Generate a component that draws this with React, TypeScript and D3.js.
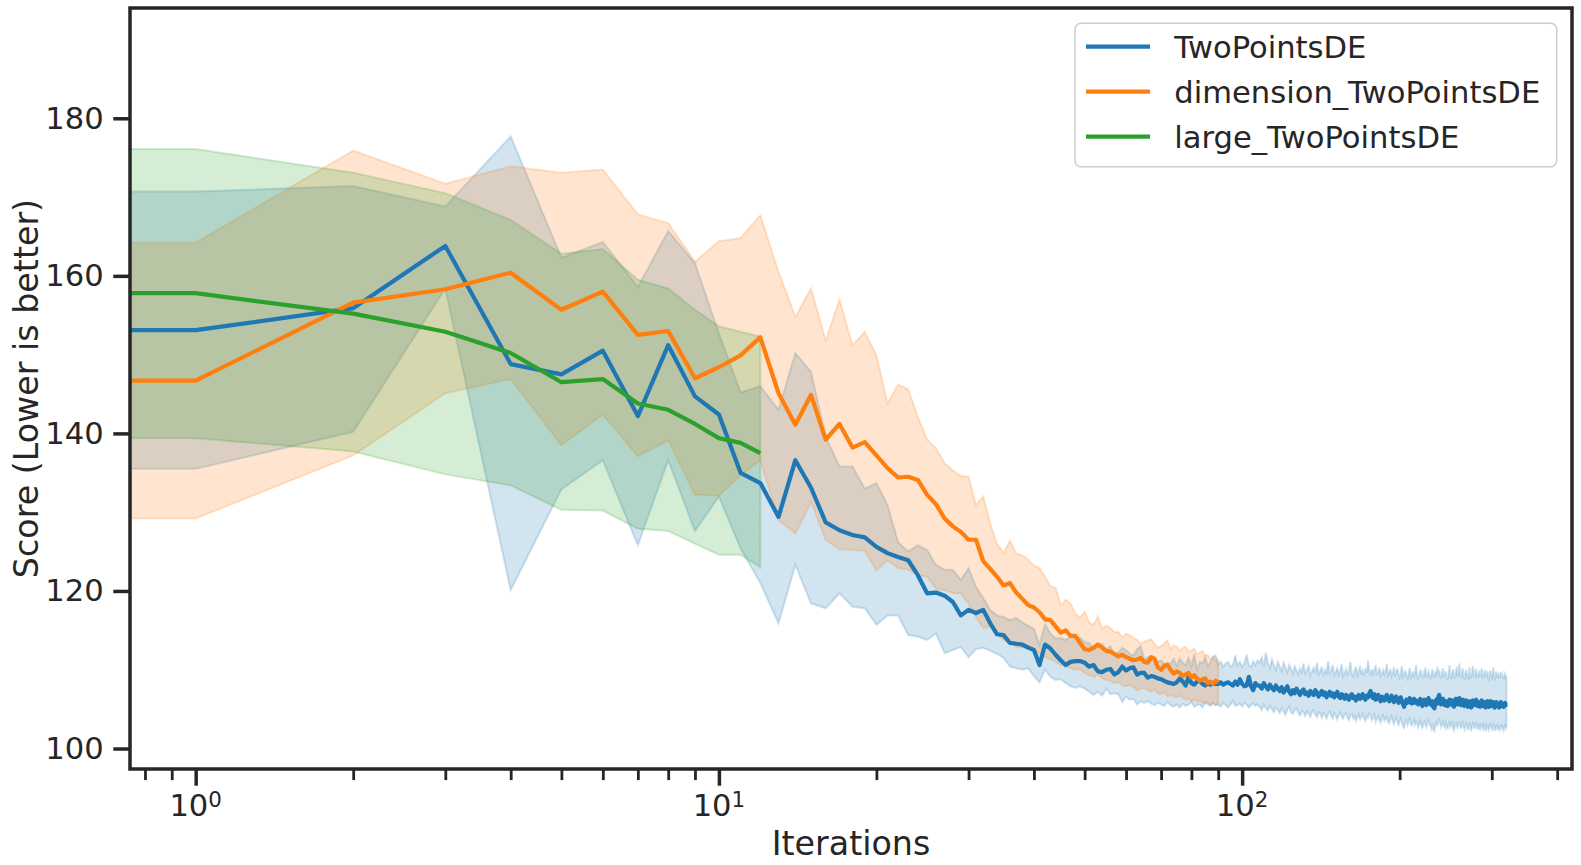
import { useEffect, useRef } from 'react';
import * as d3 from 'd3';

const WIDTH = 1581;
const HEIGHT = 865;
const PLOT = { left: 130, right: 1572, top: 8, bottom: 769 };

const X_DOMAIN: [number, number] = [0.749, 427];
const Y_DOMAIN: [number, number] = [97.4, 194];
const Y_TICKS = [100, 120, 140, 160, 180];
const X_MAJOR = [1, 10, 100];
const X_MINOR = [0.8, 0.9, 2, 3, 4, 5, 6, 7, 8, 9, 20, 30, 40, 50, 60, 70, 80, 90, 200, 300, 400];

const SERIES_NAMES = ['TwoPointsDE', 'dimension_TwoPointsDE', 'large_TwoPointsDE'];
const COLORS = ['#1f77b4', '#ff7f0e', '#2ca02c'];
const TEXT = '#262626';
const FONT = '"DejaVu Sans", sans-serif';

// TwoPointsDE, iterations 1..320
const blueMean = [
  153.1, 155.9, 163.8, 148.8, 147.5, 150.5, 142.2, 151.2, 144.7, 142.4,
  135.0, 133.7, 129.4, 136.6, 133.1, 128.7, 127.7, 127.1, 126.8, 125.6,
  124.8, 124.3, 123.9, 122.0, 119.7, 119.8, 119.4, 118.6, 116.9, 117.6,
  117.2, 117.6, 115.9, 114.5, 114.4, 113.4, 113.3, 113.2, 112.8, 112.5,
  110.6, 113.2, 112.7, 111.9, 111.2, 110.6, 111.0, 111.1, 111.1, 110.9,
  110.4, 110.6, 109.8, 109.7, 110.0, 110.1, 109.4, 109.7, 110.4, 109.9,
  110.2, 110.3, 109.4, 109.6, 109.6, 109.0, 109.2, 109.1, 108.9, 108.8,
  108.6, 108.4, 108.3, 108.2, 108.4, 108.9, 108.5, 108.0, 109.1, 108.3,
  108.1, 108.5, 108.6, 108.2, 108.0, 108.3, 108.1, 108.3, 108.2, 108.2,
  108.4, 108.1, 108.3, 108.4, 108.2, 108.0, 108.5, 108.1, 108.8, 108.2,
  107.9, 108.0, 109.1, 107.9, 107.4, 108.3, 108.0,
  108.0, 107.6, 108.3, 107.9, 107.5, 108.1, 107.7, 107.4, 108.0, 107.6,
  107.3, 107.8, 107.1, 107.5, 107.9, 107.2, 106.9, 107.4, 107.0, 107.6,
  107.2, 106.8, 107.3, 107.5, 106.9, 107.1, 106.7, 107.3, 107.0, 106.8,
  107.4, 107.1, 106.6, 107.0, 107.3, 106.8, 107.1, 106.5, 106.9, 107.2,
  106.7, 107.0, 106.5, 106.9, 107.2, 106.6, 106.4, 106.9, 106.7, 106.3,
  106.8, 106.5, 106.2, 106.7, 106.9, 106.4, 106.6, 106.1, 106.5, 106.8,
  106.3, 106.6, 106.9, 106.4, 106.2, 106.7, 106.5, 107.0, 107.3, 106.6,
  106.4, 106.9, 106.2, 106.5, 106.8, 106.3, 106.0, 106.6, 106.4, 106.1,
  106.5, 106.8, 106.2, 106.0, 106.4, 106.7, 106.1, 105.9, 106.3, 106.6,
  106.2, 105.8, 106.1, 106.5, 106.0, 105.6, 105.3, 105.9, 106.2, 105.8,
  106.1, 106.4, 105.9, 105.7, 106.0, 106.3, 105.8, 106.1, 105.9, 105.6,
  106.0, 106.3, 105.7, 105.4, 105.9, 106.2, 105.8, 105.5, 106.0, 106.4,
  106.1, 105.7, 105.5, 106.0, 105.3, 105.1, 105.8, 106.2, 105.7, 106.5,
  106.8, 106.1, 105.6, 105.9, 106.3, 105.7, 105.5, 106.0, 105.8, 105.4,
  105.9, 106.2, 105.6, 105.8, 106.1, 105.5, 105.3, 105.9, 106.3, 105.7,
  105.6, 106.0, 106.4, 105.8, 105.5, 105.9, 106.2, 105.6, 105.4, 105.8,
  106.1, 105.7, 105.3, 105.8, 106.0, 105.6, 105.2, 105.7, 106.1, 105.9,
  105.5, 105.8, 106.2, 105.6, 105.4, 105.9, 105.7, 105.3, 105.8, 106.1,
  105.6, 105.4, 105.9, 105.7, 105.2, 105.6, 106.0, 105.5, 105.3, 105.8,
  106.0, 105.6, 105.4, 105.7, 105.9, 105.5, 105.2, 105.6, 105.9, 105.4,
  105.7, 105.5, 105.2, 105.6, 105.9, 105.4, 105.7, 105.5, 105.3, 105.6,
  105.8, 105.5, 105.6,
];
const blueUpper = [
  170.7, 171.4, 168.8, 177.7, 162.3, 164.3, 158.6, 165.7, 161.6, 152.7,
  145.2, 146.0, 143.0, 150.2, 147.8, 139.6, 135.8, 135.8, 133.0, 133.7,
  130.9, 126.2, 125.0, 125.8, 125.2, 123.3, 122.7, 122.7, 121.4, 122.9,
  120.5, 119.1, 117.6, 116.9, 116.7, 116.3, 116.6, 116.0, 115.6, 115.2,
  113.2, 115.8, 114.6, 114.0, 114.0, 113.8, 114.2, 114.1, 114.1, 113.5,
  113.4, 112.6, 113.0, 113.3, 112.5, 113.0, 111.9, 112.2, 112.8, 112.5,
  112.0, 111.8, 112.6, 113.0, 111.3, 111.6, 111.2, 111.5, 111.0, 111.2,
  110.7, 110.9, 110.8, 111.4, 110.5, 111.4, 110.9, 110.6, 111.5, 110.4,
  112.0, 110.0, 111.0, 110.8, 111.6, 110.4, 111.0, 111.7, 111.8, 110.6,
  111.0, 110.4, 110.8, 111.0, 110.4, 110.6, 111.8, 110.5, 111.0, 110.4,
  110.8, 111.9, 110.6, 110.4, 111.1, 110.6, 111.2,
  110.9, 111.6, 110.4, 112.2, 110.8, 110.2, 111.3, 110.6, 110.0, 111.0,
  110.4, 109.8, 110.9, 110.3, 109.7, 110.6, 110.1, 109.5, 110.4, 109.9,
  109.4, 110.2, 109.7, 110.8, 109.5, 109.9, 110.5, 109.3, 109.8, 110.3,
  109.6, 110.9, 109.4, 109.8, 110.4, 109.2, 110.0, 109.6, 111.1, 109.5,
  109.9, 110.6, 109.3, 109.7, 110.2, 109.4, 109.9, 110.7, 109.2, 109.6,
  110.1, 109.4, 109.8, 111.0, 109.5, 109.2, 109.9, 110.4, 109.3, 109.7,
  110.5, 109.4, 109.9, 109.3, 110.2, 109.6, 111.2, 109.8, 109.4, 110.1,
  109.5, 109.9, 110.6, 109.3, 109.7, 110.3, 109.2, 109.6, 110.0, 109.4,
  109.8, 110.7, 109.3, 109.6, 110.1, 109.2, 109.5, 110.4, 109.1, 109.7,
  110.2, 109.4, 109.0, 109.6, 110.5, 109.1, 109.4, 109.9, 109.3, 108.9,
  109.5, 110.2, 109.1, 109.4, 109.8, 109.0, 109.6, 110.6, 109.2, 108.9,
  109.4, 110.0, 109.1, 109.5, 108.9, 109.7, 110.3, 109.0, 109.4, 109.8,
  109.2, 108.8, 109.5, 110.1, 109.0, 109.3, 109.8, 109.1, 110.4, 109.5,
  110.0, 109.3, 108.9, 109.6, 110.2, 109.1, 109.4, 109.8, 109.0, 108.8,
  109.5, 110.6, 109.2, 109.0, 109.7, 110.1, 109.3, 108.9, 109.6, 110.4,
  109.1, 109.5, 110.8, 109.4, 109.0, 109.6, 110.2, 109.1, 108.9, 109.5,
  110.0, 109.3, 108.8, 109.4, 110.3, 109.0, 109.2, 109.7, 110.5, 109.4,
  109.0, 109.6, 110.1, 109.2, 108.9, 109.5, 109.9, 109.1, 109.4, 110.2,
  109.3, 108.9, 109.6, 110.0, 109.1, 109.4, 109.8, 109.0, 108.8, 109.5,
  109.9, 109.2, 109.0, 109.6, 110.3, 109.1, 108.9, 109.4, 109.8, 109.0,
  109.3, 109.6, 108.9, 109.2, 109.7, 109.0, 109.4, 109.1, 108.8, 109.3,
  109.5, 109.0, 109.2,
];
const blueLower = [
  135.5, 140.2, 158.4, 120.1, 132.9, 136.6, 125.8, 136.6, 127.6, 132.0,
  125.4, 121.0, 115.9, 123.3, 118.4, 117.8, 119.7, 118.0, 117.8, 115.7,
  116.9, 116.9, 114.4, 114.2, 113.8, 114.6, 112.1, 112.5, 112.9, 111.6,
  112.6, 112.8, 112.4, 112.0, 111.5, 110.4, 110.2, 110.0, 110.2, 109.2,
  108.4, 110.0, 109.1, 108.7, 108.8, 108.3, 107.9, 107.7, 107.9, 107.6,
  107.2, 106.8, 107.2, 106.7, 107.6, 106.9, 107.0, 106.9, 105.9, 106.6,
  106.2, 106.3, 105.6, 106.0, 105.8, 106.0, 105.7, 105.5, 105.8, 105.6,
  105.4, 105.9, 105.5, 105.3, 105.6, 105.2, 105.7, 105.4, 105.6, 105.9,
  105.3, 105.5, 105.6, 105.2, 105.9, 105.6, 105.4, 105.7, 105.5, 105.6,
  105.3, 105.8, 105.5, 105.2, 105.6, 106.0, 105.4, 105.5, 105.7, 105.3,
  105.8, 105.6, 105.2, 105.5, 105.7, 105.4, 105.6,
  105.3, 104.9, 105.6, 105.1, 104.8, 105.4, 105.0, 104.6, 105.2, 104.9,
  104.5, 105.1, 104.7, 104.3, 104.9, 105.3, 104.6, 104.4, 104.9, 105.1,
  104.5, 104.2, 104.8, 104.6, 104.1, 104.7, 104.4, 104.0, 104.6, 104.9,
  104.3, 104.0, 104.6, 104.4, 103.9, 104.5, 104.2, 103.8, 104.4, 104.7,
  104.1, 103.8, 104.5, 104.2, 103.7, 104.3, 104.6, 104.0, 103.8, 104.3,
  104.5, 103.9, 103.6, 104.2, 104.4, 103.8, 104.1, 103.5, 104.0, 104.3,
  103.7, 104.0, 104.4, 103.8, 103.5, 104.1, 103.9, 104.5, 104.2, 103.6,
  103.9, 104.3, 103.4, 103.8, 104.1, 103.6, 103.3, 103.9, 104.2, 103.5,
  103.8, 104.0, 103.4, 103.2, 103.7, 104.1, 103.5, 103.1, 103.6, 103.9,
  103.4, 103.0, 103.5, 103.8, 103.2, 102.8, 102.6, 103.3, 103.6, 103.0,
  103.4, 103.7, 103.1, 102.9, 103.3, 103.6, 103.0, 103.4, 103.2, 102.7,
  103.2, 103.5, 102.9, 102.6, 103.1, 103.4, 103.0, 102.7, 103.3, 103.6,
  103.1, 102.8, 102.5, 103.2, 102.4, 102.2, 102.9, 103.4, 102.8, 103.5,
  103.7, 103.1, 102.7, 103.0, 103.4, 102.9, 102.6, 103.2, 102.9, 102.4,
  103.0, 103.3, 102.7, 102.9, 103.2, 102.6, 102.3, 102.9, 103.4, 102.8,
  102.6, 103.1, 103.5, 102.9, 102.5, 103.0, 103.3, 102.7, 102.4, 102.9,
  103.2, 102.8, 102.3, 102.9, 103.1, 102.6, 102.2, 102.8, 103.2, 103.0,
  102.5, 102.9, 103.3, 102.7, 102.4, 103.0, 102.8, 102.3, 102.9, 103.2,
  102.6, 102.4, 103.0, 102.8, 102.2, 102.7, 103.1, 102.5, 102.3, 102.9,
  103.1, 102.6, 102.4, 102.8, 103.0, 102.5, 102.2, 102.7, 103.0, 102.4,
  102.8, 102.5, 102.2, 102.7, 103.0, 102.4, 102.8, 102.6, 102.3, 102.7,
  102.9, 102.5, 102.7,
];

// dimension_TwoPointsDE, iterations 1..90
const orangeMean = [
  146.7, 156.6, 158.3, 160.4, 155.7, 158.0, 152.5, 153.0, 147.0, 148.4,
  149.9, 152.2, 145.1, 141.1, 144.9, 139.2, 141.2, 138.2, 138.9, 137.2,
  135.6, 134.4, 134.5, 134.1, 132.2, 131.0, 129.2, 128.2, 127.5, 126.5,
  126.5, 123.8, 122.8, 121.8, 120.7, 121.0, 119.8, 119.0, 118.2, 117.9,
  117.3, 116.4, 116.3, 115.5, 114.7, 115.0, 114.3, 114.3, 113.4, 112.6,
  112.5, 112.8, 113.2, 112.8, 112.4, 112.3, 112.0, 111.7, 111.9, 111.6,
  111.4, 111.2, 111.3, 111.5, 111.0, 110.9, 111.6, 111.4, 110.3, 110.0,
  110.5, 110.6, 110.0, 109.5, 109.8, 109.6, 109.2, 109.4, 109.6, 109.0,
  109.3, 108.9, 108.6, 108.8, 108.9, 108.3, 108.5, 108.2, 108.6, 108.4,
];
const orangeUpper = [
  164.2, 175.9, 171.7, 173.9, 173.1, 173.5, 167.8, 166.7, 161.8, 164.4,
  164.8, 167.7, 160.5, 154.8, 158.4, 151.8, 157.0, 151.2, 152.9, 149.9,
  143.8, 146.2, 145.6, 142.1, 139.2, 138.1, 136.2, 135.3, 134.6, 134.5,
  130.9, 132.0, 128.6, 126.0, 124.8, 126.4, 124.8, 124.5, 124.0, 123.2,
  122.9, 121.8, 120.6, 120.4, 118.2, 118.9, 118.4, 117.1, 116.6, 117.4,
  116.0, 115.7, 116.8, 115.2, 115.6, 115.3, 114.8, 114.8, 114.1, 114.6,
  114.4, 114.0, 113.8, 113.3, 113.6, 113.7, 113.9, 113.3, 112.8, 113.0,
  113.4, 113.7, 112.6, 113.1, 112.9, 112.4, 112.8, 112.9, 112.3, 112.4,
  112.7, 112.0, 112.2, 112.4, 111.8, 111.9, 111.3, 111.6, 111.2, 111.3,
];
const orangeLower = [
  129.2, 137.2, 145.1, 146.9, 138.5, 142.4, 137.1, 139.1, 132.2, 132.1,
  134.7, 136.6, 129.0, 127.3, 131.3, 126.5, 125.3, 125.2, 125.1, 122.6,
  123.9, 122.9, 122.7, 122.0, 121.8, 120.3, 120.1, 119.7, 119.7, 118.4,
  116.7, 115.3, 115.5, 114.6, 113.8, 113.4, 112.9, 112.8, 113.0, 112.6,
  112.0, 111.6, 111.3, 111.0, 110.6, 110.4, 110.2, 110.0, 110.1, 109.6,
  109.3, 109.1, 109.4, 108.9, 108.7, 108.6, 108.3, 108.4, 108.0, 107.9,
  108.1, 107.8, 107.4, 107.6, 107.7, 107.4, 107.2, 107.5, 107.0, 106.9,
  107.1, 106.6, 106.8, 106.6, 106.5, 106.7, 106.4, 106.2, 106.4, 106.0,
  106.2, 105.9, 106.1, 105.8, 105.7, 105.9, 105.6, 105.8, 105.5, 105.7,
];

// large_TwoPointsDE, iterations 1..12
const greenMean = [157.8, 155.2, 152.9, 150.2, 146.5, 146.9, 143.8, 143.0, 141.2, 139.4, 138.8, 137.5];
const greenUpper = [176.1, 173.1, 170.5, 167.1, 162.8, 163.4, 159.5, 158.4, 155.7, 153.6, 152.9, 152.3];
const greenLower = [139.4, 137.7, 134.8, 133.4, 130.3, 130.2, 127.9, 127.6, 126.0, 124.6, 124.6, 123.0];

interface Pt {
  it: number;
  m: number;
  lo: number;
  hi: number;
}

function toPoints(mean: number[], lower: number[], upper: number[]): Pt[] {
  const pts = mean.map((m, i) => ({ it: i + 1, m, lo: lower[i], hi: upper[i] }));
  // iteration 0 is clipped to the left edge on the log axis
  return [{ ...pts[0], it: X_DOMAIN[0] }, ...pts];
}

export default function App() {
  const svgRef = useRef<SVGSVGElement>(null);

  useEffect(() => {
    if (!svgRef.current) return;
    const svg = d3.select(svgRef.current);
    svg.selectAll('*').remove();

    const x = d3.scaleLog().domain(X_DOMAIN).range([PLOT.left, PLOT.right]);
    const y = d3.scaleLinear().domain(Y_DOMAIN).range([PLOT.bottom, PLOT.top]);

    const series = [
      toPoints(blueMean, blueLower, blueUpper),
      toPoints(orangeMean, orangeLower, orangeUpper),
      toPoints(greenMean, greenLower, greenUpper),
    ];

    svg
      .append('defs')
      .append('clipPath')
      .attr('id', 'plot-clip')
      .append('rect')
      .attr('x', PLOT.left)
      .attr('y', PLOT.top)
      .attr('width', PLOT.right - PLOT.left)
      .attr('height', PLOT.bottom - PLOT.top);

    const plot = svg.append('g').attr('clip-path', 'url(#plot-clip)');

    const area = d3
      .area<Pt>()
      .x((d) => x(d.it))
      .y0((d) => y(d.lo))
      .y1((d) => y(d.hi));
    const line = d3
      .line<Pt>()
      .x((d) => x(d.it))
      .y((d) => y(d.m));

    series.forEach((pts, i) => {
      plot
        .append('path')
        .attr('d', area(pts))
        .attr('fill', COLORS[i])
        .attr('fill-opacity', 0.2)
        .attr('stroke', COLORS[i])
        .attr('stroke-opacity', 0.2)
        .attr('stroke-width', 2);
    });
    series.forEach((pts, i) => {
      plot
        .append('path')
        .attr('d', line(pts))
        .attr('fill', 'none')
        .attr('stroke', COLORS[i])
        .attr('stroke-width', 4.2)
        .attr('stroke-linejoin', 'round');
    });

    // y axis
    const yAxis = svg
      .append('g')
      .attr('transform', `translate(${PLOT.left},0)`)
      .call(d3.axisLeft(y).tickValues(Y_TICKS).tickSize(16.7).tickPadding(9.7));
    yAxis.select('.domain').remove();
    yAxis.attr('font-size', 30.6).attr('font-family', FONT).attr('color', TEXT);
    yAxis.selectAll('line').attr('stroke-width', 3.5);

    // x axis: minor + major ticks
    const xMinor = svg
      .append('g')
      .attr('transform', `translate(0,${PLOT.bottom})`)
      .call(d3.axisBottom(x).tickValues(X_MINOR).tickSize(11.1).tickFormat(() => ''));
    xMinor.select('.domain').remove();
    xMinor.attr('color', TEXT).selectAll('line').attr('stroke-width', 2.8);

    const xMajor = svg
      .append('g')
      .attr('transform', `translate(0,${PLOT.bottom})`)
      .call(d3.axisBottom(x).tickValues(X_MAJOR).tickSize(16.7).tickFormat(() => ''));
    xMajor.select('.domain').remove();
    xMajor.attr('color', TEXT).selectAll('line').attr('stroke-width', 3.5);

    const labels = svg
      .append('g')
      .attr('font-family', FONT)
      .attr('fill', TEXT)
      .selectAll('text')
      .data(X_MAJOR)
      .join('text')
      .attr('x', (d) => x(d))
      .attr('y', PLOT.bottom + 47)
      .attr('text-anchor', 'middle')
      .attr('font-size', 30.6);
    labels.append('tspan').text('10');
    labels
      .append('tspan')
      .attr('font-size', 21.4)
      .attr('dy', -9.5)
      .text((d) => String(Math.round(Math.log10(d))));

    // spines
    svg
      .append('rect')
      .attr('x', PLOT.left)
      .attr('y', PLOT.top)
      .attr('width', PLOT.right - PLOT.left)
      .attr('height', PLOT.bottom - PLOT.top)
      .attr('fill', 'none')
      .attr('stroke', TEXT)
      .attr('stroke-width', 3.5);

    // axis titles
    svg
      .append('text')
      .attr('x', (PLOT.left + PLOT.right) / 2)
      .attr('y', 855)
      .attr('text-anchor', 'middle')
      .attr('font-family', FONT)
      .attr('font-size', 33.3)
      .attr('fill', TEXT)
      .text('Iterations');
    svg
      .append('text')
      .attr('transform', `translate(37.5,${(PLOT.top + PLOT.bottom) / 2}) rotate(-90)`)
      .attr('text-anchor', 'middle')
      .attr('font-family', FONT)
      .attr('font-size', 33.3)
      .attr('fill', TEXT)
      .text('Score (Lower is better)');

    // legend
    const legend = svg.append('g').attr('transform', 'translate(1075,23.3)');
    legend
      .append('rect')
      .attr('width', 481.7)
      .attr('height', 143.4)
      .attr('rx', 6)
      .attr('fill', '#ffffff')
      .attr('fill-opacity', 0.8)
      .attr('stroke', '#cccccc')
      .attr('stroke-width', 1.5);
    SERIES_NAMES.forEach((name, i) => {
      const cy = 23.4 + i * 45;
      legend
        .append('line')
        .attr('x1', 11)
        .attr('x2', 75)
        .attr('y1', cy)
        .attr('y2', cy)
        .attr('stroke', COLORS[i])
        .attr('stroke-width', 4.2);
      legend
        .append('text')
        .attr('x', 99.3)
        .attr('y', cy + 11.3)
        .attr('font-family', FONT)
        .attr('font-size', 30.6)
        .attr('fill', TEXT)
        .text(name);
    });
  }, []);

  return (
    <svg
      ref={svgRef}
      width={WIDTH}
      height={HEIGHT}
      style={{ position: 'absolute', left: 0, top: 0, background: '#ffffff' }}
    />
  );
}
